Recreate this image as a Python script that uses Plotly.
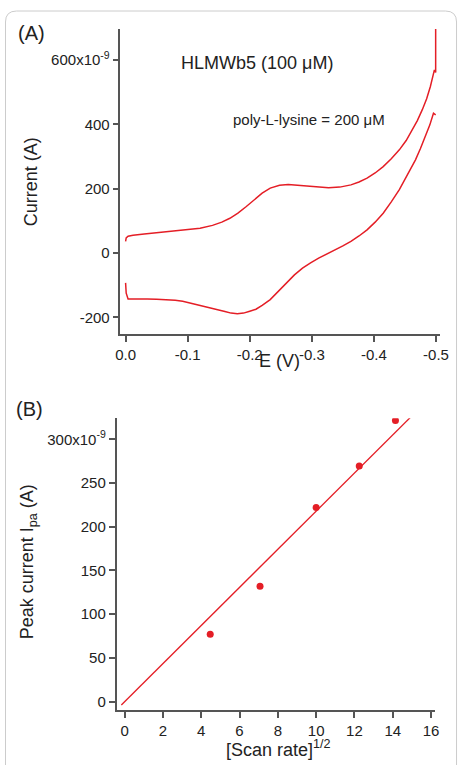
import plotly.graph_objects as go

# ---------------- data ----------------
# Panel A: cyclic voltammogram (E in V, current in nA)
cv_fwd_E = [0.000, -0.001, -0.004, -0.012, -0.030, -0.050, -0.075, -0.100, -0.120, -0.140,
            -0.155, -0.168, -0.181, -0.194, -0.207, -0.220, -0.233, -0.248, -0.262, -0.285,
            -0.305, -0.327, -0.345, -0.363, -0.376, -0.389, -0.402, -0.415, -0.428, -0.441,
            -0.452, -0.462, -0.470, -0.478, -0.485, -0.491, -0.4975, -0.4995, -0.4995]
cv_fwd_I = [36, 47, 52, 55, 59, 63, 67, 72, 77, 86,
            96, 108, 124, 144, 166, 186, 202, 211, 213, 209,
            205, 203, 205, 212, 221, 233, 249, 269, 293, 321,
            350, 383, 412, 446, 480, 518, 570, 562, 720]
cv_rev_E = [-0.4995, -0.496, -0.490, -0.483, -0.475, -0.467, -0.454, -0.441, -0.428, -0.415,
            -0.402, -0.389, -0.376, -0.363, -0.350, -0.337, -0.324, -0.311, -0.298, -0.285,
            -0.272, -0.259, -0.246, -0.233, -0.220, -0.210, -0.200, -0.190, -0.180, -0.170,
            -0.160, -0.150, -0.139, -0.128, -0.118, -0.105, -0.092, -0.080, -0.066, -0.050,
            -0.035, -0.020, -0.010, -0.004, -0.001, 0.000]
cv_rev_I = [430, 435, 398, 363, 325, 290, 242, 197, 159, 124,
            96, 72, 53, 36, 22, 10, -3, -16, -31, -47,
            -68, -93, -119, -145, -163, -175, -181, -187, -189, -187,
            -182, -177, -171, -166, -161, -155, -150, -147, -145, -144,
            -143, -143, -143, -143, -125, -93]

A_xtick_vals = [0.0, -0.1, -0.2, -0.3, -0.4, -0.5]
A_xtick_text = ["0.0", "-0.1", "-0.2", "-0.3", "-0.4", "-0.5"]
A_ytick_vals = [-200, 0, 200, 400, 600]
A_ytick_text = ["-200", "0", "200", "400", "600x10<sup>-9</sup>"]

# Panel B: peak current vs sqrt(scan rate)
sqrt_scan = [4.47, 7.07, 10.0, 12.25, 14.14]
peak_ipa = [77, 132, 222, 269.5, 321.5]
fit_x = [-0.17, 14.94]
fit_y = [-3.8, 325.5]

B_xtick_vals = [0, 2, 4, 6, 8, 10, 12, 14, 16]
B_ytick_vals = [0, 50, 100, 150, 200, 250, 300]
B_ytick_text = ["0", "50", "100", "150", "200", "250", "300x10<sup>-9</sup>"]

# ---------------- figure ----------------
W, H = 467, 765
RED = "#e41e26"
AX = "#555555"
TXT = "#222222"
FONT = "Liberation Sans, Arial, Helvetica, sans-serif"


def px(x):
    return x / W


def py(y):
    return 1 - y / H


fig = go.Figure()
fig.add_trace(go.Scatter(x=cv_fwd_E, y=cv_fwd_I, mode="lines",
                         line=dict(color=RED, width=1.5), xaxis="x", yaxis="y",
                         showlegend=False, hoverinfo="skip"))
fig.add_trace(go.Scatter(x=cv_rev_E, y=cv_rev_I, mode="lines",
                         line=dict(color=RED, width=1.5), xaxis="x", yaxis="y",
                         showlegend=False, hoverinfo="skip"))
fig.add_trace(go.Scatter(x=fit_x, y=fit_y, mode="lines",
                         line=dict(color=RED, width=1.3), xaxis="x2", yaxis="y2",
                         showlegend=False, hoverinfo="skip"))
fig.add_trace(go.Scatter(x=sqrt_scan, y=peak_ipa, mode="markers",
                         marker=dict(color=RED, size=7), xaxis="x2", yaxis="y2",
                         showlegend=False, hoverinfo="skip"))

axis_common = dict(showline=True, linecolor=AX, linewidth=1.5, ticks="outside",
                   ticklen=6, tickwidth=1.5, tickcolor=AX, showgrid=False,
                   zeroline=False, tickfont=dict(family=FONT, size=15, color=TXT),
                   fixedrange=True)

fig.update_layout(
    width=W, height=H,
    margin=dict(l=0, r=0, t=0, b=0),
    paper_bgcolor="white", plot_bgcolor="white",
    font=dict(family=FONT, color=TXT),
    xaxis=dict(domain=[px(119), px(448)], range=[0.0083, -0.5058],
               tickmode="array", tickvals=A_xtick_vals, ticktext=A_xtick_text,
               anchor="y", **axis_common),
    yaxis=dict(domain=[py(334), py(29)], range=[-252, 697],
               tickmode="array", tickvals=A_ytick_vals, ticktext=A_ytick_text,
               anchor="x", **axis_common),
    xaxis2=dict(domain=[px(115), px(443)], range=[-0.42, 16.19],
                tickmode="array", tickvals=B_xtick_vals,
                ticktext=[str(v) for v in B_xtick_vals],
                anchor="y2", **axis_common),
    yaxis2=dict(domain=[py(710), py(418.3)], range=[-9.5, 324],
                tickmode="array", tickvals=B_ytick_vals, ticktext=B_ytick_text,
                anchor="x2", **axis_common),
)


def ann(text, x, y, size, angle=0):
    fig.add_annotation(text=text, x=px(x), y=py(y), xref="paper", yref="paper",
                       xanchor="center", yanchor="middle", showarrow=False,
                       textangle=angle, font=dict(family=FONT, size=size, color=TXT))


ann("(A)", 27, 33, 20)
ann("(B)", 25, 409, 20)
ann("HLMWb5 (100 μM)", 260, 63, 18)
ann("poly-L-lysine = 200 μM", 313, 119, 15)
ann("Current (A)", 27, 182, 18, -90)
ann("E (V)", 283, 361, 18)
ann("Peak current I<sub>pa</sub> (A)", 24, 562, 18, -90)
ann("[Scan rate]<sup>1/2</sup>", 282, 748, 18)

# rounded panel border
path = (f"M {px(0.5)},{py(765)} L {px(0.5)},{py(22)} "
        f"Q {px(0.5)},{py(11)} {px(12)},{py(11)} "
        f"L {px(454)},{py(11)} Q {px(465.5)},{py(11)} {px(465.5)},{py(22)} "
        f"L {px(465.5)},{py(765)}")
fig.add_shape(type="path", path=path, xref="paper", yref="paper",
              line=dict(color="#cccccc", width=1))

fig.write_html("out.html")
